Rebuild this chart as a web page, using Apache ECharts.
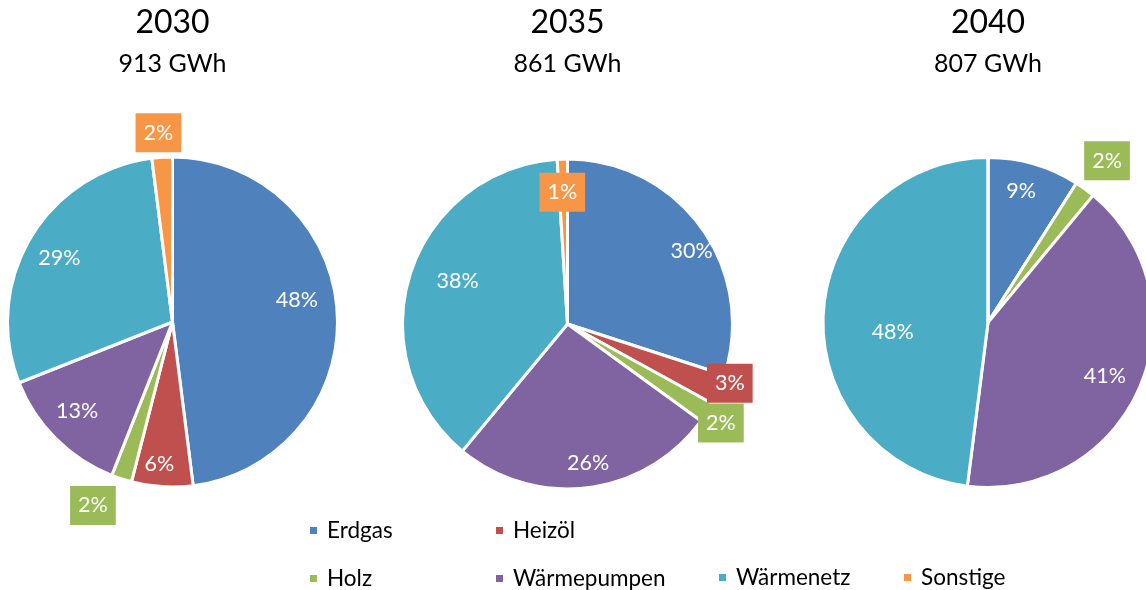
<!DOCTYPE html>
<html>
<head>
<meta charset="utf-8">
<script src="https://cdn.jsdelivr.net/npm/echarts@6/dist/echarts.min.js"></script>
<style>
  html, body { margin: 0; padding: 0; background: #fff; }
  #chart { width: 1146px; height: 590px; }
</style>
</head>
<body>
<div id="chart"></div>
<script>
// Heat supply mix by energy carrier (shares in %)
const categories = ['Erdgas', 'Heizöl', 'Holz', 'Wärmepumpen', 'Wärmenetz', 'Sonstige'];
const years = ['2030', '2035', '2040'];
const totalsGWh = [913, 861, 807];
const shares2030 = [48, 6, 2, 13, 29, 2];
const shares2035 = [30, 3, 2, 26, 38, 1];
const shares2040 = [9, 0, 2, 41, 48, 0];
const sharesByYear = [shares2030, shares2035, shares2040];

// ---- styling / layout ----
const colors = ['#4F81BD', '#C0504D', '#9BBB59', '#8064A2', '#4BACC6', '#F79646'];
const FONT = 'Lato, "Open Sans", sans-serif';
const R = 165;
const centers = [[172.5, 322], [567.5, 324], [988, 322.5]];
// per slice: [label distance as fraction of the radius, label drawn in a coloured box, nudge [dx, dy]]
const labelPlacement = [
  [[0.78, false, [-6, -14]], [0.87, false, [-4, -3]], [1.22, true, [-17, -9]],
   [0.79, false, [-2, -4]], [0.80, false, [2, 4]], [1.16, true, [-2, 3]]],
  [[0.86, false, [8, 11]], [1.05, true, [2, -10]], [1.10, true, [-1, 1]],
   [0.84, false, [3, 0]], [0.72, false, [5, -6]], [0.80, true, [-1, 2]]],
  [[0.84, false, [-6, 3]], null, [1.22, true, [0, 2]],
   [0.78, false, [-3, 2]], [0.59, false, [4, 16]], null]
];

const series = [];
const titles = [];

years.forEach((year, y) => {
  const values = sharesByYear[y];
  const center = centers[y];

  titles.push({
    text: year,
    subtext: totalsGWh[y] + ' GWh',
    left: center[0],
    top: 7,
    textAlign: 'center',
    padding: 0,
    itemGap: 12,
    textStyle: { fontFamily: FONT, fontSize: 32, lineHeight: 32, fontWeight: 'normal', color: '#000' },
    subtextStyle: { fontFamily: FONT, fontSize: 25, lineHeight: 25, color: '#000' }
  });

  // the coloured pie itself
  series.push({
    type: 'pie',
    name: year,
    center: center,
    radius: R,
    startAngle: 90,
    clockwise: true,
    silent: true,
    animation: false,
    emphasis: { disabled: true },
    label: { show: false },
    labelLine: { show: false },
    itemStyle: { borderColor: '#fff', borderWidth: 3 },
    data: categories.map((name, i) => ({ name, value: values[i], itemStyle: { color: colors[i] } }))
  });

  // transparent companion pies carry the value labels; an 'inside' label sits at
  // half of the companion radius, so each distance group gets its own companion
  const groups = {};
  labelPlacement[y].forEach((p, i) => {
    if (!p) return;
    const key = p[0].toFixed(2);
    (groups[key] = groups[key] || []).push(i);
  });
  Object.keys(groups).forEach(key => {
    const f = parseFloat(key);
    const members = groups[key];
    series.push({
      type: 'pie',
      name: year + '-labels-' + key,
      center: center,
      radius: 2 * f * (R - 1.5),
      startAngle: 90,
      clockwise: true,
      silent: true,
      animation: false,
      avoidLabelOverlap: false,
      labelLayout: { hideOverlap: false },
      emphasis: { disabled: true },
      labelLine: { show: false },
      itemStyle: { color: 'rgba(0,0,0,0)', borderWidth: 0 },
      data: categories.map((name, i) => {
        const shown = members.indexOf(i) >= 0;
        const p = labelPlacement[y][i];
        const boxed = shown && p[1];
        return {
          name,
          value: values[i],
          itemStyle: { color: 'rgba(0,0,0,0)' },
          label: {
            show: shown,
            position: 'inside',
            formatter: '{c}%',
            color: '#fff',
            fontFamily: FONT,
            fontSize: 21.5,
            lineHeight: 22,
            offset: shown ? p[2] : [0, 0],
            backgroundColor: boxed ? colors[i] : 'transparent',
            padding: boxed ? [9, 8, 8, 8] : 0
          }
        };
      })
    });
  });
});

const legendBase = {
  orient: 'vertical',
  icon: 'rect',
  itemWidth: 9,
  itemHeight: 9,
  itemGap: 25,
  padding: 0,
  selectedMode: false,
  top: 519,
  textStyle: { fontFamily: FONT, fontSize: 22.5, lineHeight: 22, color: '#000', padding: [0, 0, 0, 4] }
};
const legendItem = i => ({ name: categories[i], itemStyle: { color: colors[i] } });

const option = {
  backgroundColor: '#fff',
  animation: false,
  title: titles,
  legend: [
    Object.assign({}, legendBase, { left: 308, data: [legendItem(0), legendItem(2)] }),
    Object.assign({}, legendBase, { left: 494, data: [legendItem(1), legendItem(3)] }),
    Object.assign({}, legendBase, { left: 717, top: 566, data: [legendItem(4)] }),
    Object.assign({}, legendBase, { left: 902, top: 566, data: [legendItem(5)] })
  ],
  series: series
};

const chart = echarts.init(document.getElementById('chart'), null, { renderer: 'canvas' });
chart.setOption(option);
</script>
</body>
</html>
